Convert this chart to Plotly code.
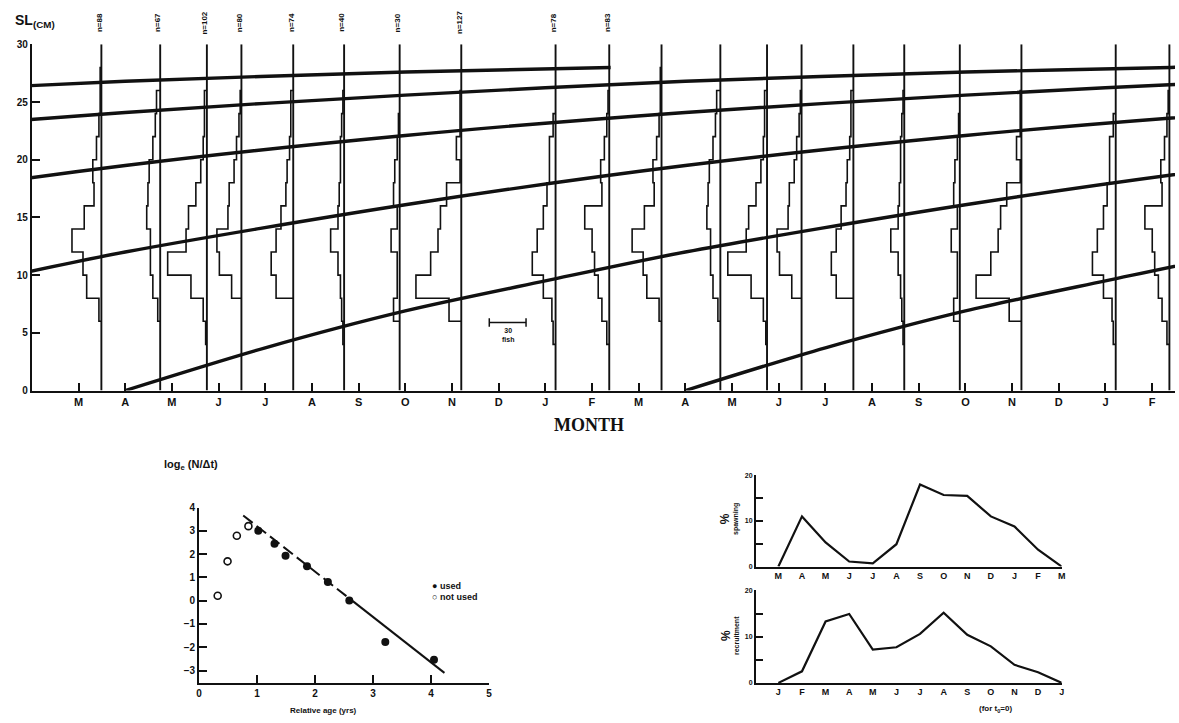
import plotly.graph_objects as go

W, H = 1179, 723

# ---------------- length-frequency samples (one year, shown twice) ----------------
sample_month = [1.49, 2.75, 3.75, 4.49, 5.60, 6.69, 7.88, 9.20, 11.22, 12.37]
sample_n = [88, 67, 102, 80, 74, 40, 30, 127, 78, 83]
bin_lower = [4, 6, 8, 10, 12, 14, 16, 18, 20, 22, 24, 26]
bin_width = 2
freq_1 = [0, 2, 12, 15, 24, 14, 6, 7, 4, 2, 1, 1]
freq_2 = [0, 2, 6, 8, 8, 11, 10, 9, 6, 4, 3, 0]
freq_3 = [1, 3, 13, 32, 17, 15, 9, 5, 3, 2, 2, 0]
freq_4 = [0, 0, 8, 18, 20, 11, 10, 6, 4, 2, 1, 0]
freq_5 = [0, 0, 14, 18, 14, 10, 6, 5, 3, 2, 2, 0]
freq_6 = [1, 2, 3, 5, 11, 5, 4, 3, 3, 2, 1, 0]
freq_7 = [0, 5, 2, 2, 7, 2, 5, 4, 2, 1, 0, 0]
freq_8 = [0, 10, 37, 25, 19, 17, 12, 1, 4, 1, 1, 0]
freq_9 = [2, 3, 10, 19, 15, 10, 7, 5, 5, 2, 0, 0]
freq_10 = [2, 6, 9, 12, 14, 20, 6, 7, 4, 2, 1, 0]
freqs = [freq_1, freq_2, freq_3, freq_4, freq_5, freq_6, freq_7, freq_8, freq_9, freq_10]
repeat_offsets = [0, 12]
fish_scale = 30              # fish represented by the scale bar
fish_per_month = 38.1        # horizontal histogram scale (fish per month of axis)
scale_bar_start = 9.8
scale_bar_level = 5.9

month_letters = ["M", "A", "M", "J", "J", "A", "S", "O", "N", "D", "J", "F"] * 2

# growth curve: standard length at age (months) and cohort birth months
growth_age = [0, 3, 6, 9, 12, 18, 24, 30, 36, 42, 48, 54, 58.4, 60, 66, 72]
growth_len = [0, 3.7, 6.9, 9.5, 12.0, 16.1, 19.5, 22.1, 24.1, 25.6, 26.8, 27.6, 28.0, 28.2, 28.8, 29.2]
cohort_birth = [-46, -34, -22, -10, 2, 14]
cohort_end = [12.4, None, None, None, None, None]

# ---------------- catch curve ----------------
age_not_used = [0.32, 0.49, 0.65, 0.85]
ln_not_used = [0.21, 1.69, 2.79, 3.20]
age_used = [1.02, 1.30, 1.49, 1.86, 2.22, 2.59, 3.21, 4.05]
ln_used = [3.00, 2.44, 1.93, 1.48, 0.80, 0.01, -1.77, -2.54]
fit_age = [0.76, 2.65, 4.23]
fit_ln = [3.66, -0.02, -3.10]

# ---------------- spawning / recruitment ----------------
spawn_months = ["M", "A", "M", "J", "J", "A", "S", "O", "N", "D", "J", "F", "M"]
spawn_pct = [0, 11.0, 5.3, 1.1, 0.7, 4.9, 18.0, 15.7, 15.5, 11.0, 8.8, 3.7, 0]
recr_months = ["J", "F", "M", "A", "M", "J", "J", "A", "S", "O", "N", "D", "J"]
recr_pct = [0, 2.5, 13.3, 14.9, 7.2, 7.7, 10.6, 15.2, 10.4, 7.9, 3.9, 2.3, 0]

BLACK = "#111111"
SANS = "Liberation Sans"


def px_x(p):
    return p / W


def px_y(p):
    return 1 - p / H


fig = go.Figure()

# growth curves
for birth, end in zip(cohort_birth, cohort_end):
    xs, ys = [], []
    for a, L in zip(growth_age, growth_len):
        x = birth + a
        if end is not None and x > end + 1e-6:
            break
        xs.append(x)
        ys.append(L)
    fig.add_trace(go.Scatter(x=xs, y=ys, mode="lines", xaxis="x", yaxis="y",
                             line=dict(color=BLACK, width=3.4, shape="spline", smoothing=0.8),
                             hoverinfo="skip"))

# sample date lines and histogram outlines
fw = 1.0 / fish_per_month
line_x, line_y, hist_x, hist_y = [], [], [], []
for off in repeat_offsets:
    for d0, counts in zip(sample_month, freqs):
        d = d0 + off
        line_x += [d, d, None]
        line_y += [0, 30, None]
        nz = [i for i, c in enumerate(counts) if c > 0]
        first, last = nz[0], nz[-1]
        xs, ys = [d], [bin_lower[first]]
        for i in range(first, last + 1):
            xl = d - counts[i] * fw
            xs += [xl, xl]
            ys += [bin_lower[i], bin_lower[i] + bin_width]
        xs.append(d)
        ys.append(bin_lower[last] + bin_width)
        hist_x += xs + [None]
        hist_y += ys + [None]

fig.add_trace(go.Scatter(x=line_x, y=line_y, mode="lines", xaxis="x", yaxis="y",
                         line=dict(color=BLACK, width=1.9), hoverinfo="skip"))
fig.add_trace(go.Scatter(x=hist_x, y=hist_y, mode="lines", xaxis="x", yaxis="y",
                         line=dict(color=BLACK, width=1.6), hoverinfo="skip"))

# scale bar
fig.add_trace(go.Scatter(x=[scale_bar_start, scale_bar_start + fish_scale * fw],
                         y=[scale_bar_level, scale_bar_level], mode="lines+markers",
                         xaxis="x", yaxis="y",
                         marker=dict(symbol="line-ns", size=6, line=dict(width=1.5, color=BLACK), color=BLACK),
                         line=dict(color=BLACK, width=1.5), hoverinfo="skip"))

# catch curve
fig.add_trace(go.Scatter(x=fit_age[:2], y=fit_ln[:2], mode="lines", xaxis="x2", yaxis="y2",
                         line=dict(color=BLACK, width=2, dash="12px,5px"), hoverinfo="skip"))
fig.add_trace(go.Scatter(x=fit_age[1:], y=fit_ln[1:], mode="lines", xaxis="x2", yaxis="y2",
                         line=dict(color=BLACK, width=2), hoverinfo="skip"))
fig.add_trace(go.Scatter(x=age_not_used, y=ln_not_used, mode="markers", xaxis="x2", yaxis="y2",
                         marker=dict(symbol="circle-open", size=7, color=BLACK, line=dict(width=1.6)),
                         hoverinfo="skip"))
fig.add_trace(go.Scatter(x=age_used, y=ln_used, mode="markers", xaxis="x2", yaxis="y2",
                         marker=dict(symbol="circle", size=8, color=BLACK), hoverinfo="skip"))

# spawning and recruitment
fig.add_trace(go.Scatter(x=list(range(len(spawn_pct))), y=spawn_pct, mode="lines",
                         xaxis="x3", yaxis="y3", line=dict(color=BLACK, width=2.2), hoverinfo="skip"))
fig.add_trace(go.Scatter(x=list(range(len(recr_pct))), y=recr_pct, mode="lines",
                         xaxis="x4", yaxis="y4", line=dict(color=BLACK, width=2.2), hoverinfo="skip"))

axis_common = dict(showgrid=False, zeroline=False, showline=True, linecolor=BLACK,
                   linewidth=2, ticks="inside", tickcolor=BLACK, tickwidth=2,
                   mirror=False)
small_minor = dict(tickvals=[5, 15], ticks="inside", ticklen=7, tickwidth=1.6,
                   tickcolor=BLACK, showgrid=False)

fig.update_layout(
    width=W, height=H, margin=dict(l=0, r=0, t=0, b=0),
    paper_bgcolor="white", plot_bgcolor="white", showlegend=False,
    xaxis=dict(axis_common, domain=[px_x(29), 1.0], range=[0, 24.49], anchor="y",
               tickvals=list(range(1, 25)), ticktext=month_letters, ticklen=8,
               tickfont=dict(family=SANS, size=11, color=BLACK, weight="bold")),
    yaxis=dict(axis_common, domain=[px_y(391), px_y(39)], range=[0, 30], anchor="x",
               tickvals=[0, 5, 10, 15, 20, 25, 30], ticklen=8,
               tickfont=dict(family=SANS, size=10, color=BLACK, weight="bold")),
    xaxis2=dict(axis_common, domain=[px_x(197.3), px_x(489)], range=[0, 5], anchor="y2",
                tickvals=[0, 1, 2, 3, 4, 5], ticklen=8,
                tickfont=dict(family=SANS, size=10, color=BLACK, weight="bold")),
    yaxis2=dict(axis_common, domain=[px_y(688.3), px_y(510)], range=[-3.53, 4], anchor="x2",
                tickvals=[-3, -2, -1, 0, 1, 2, 3, 4], ticklen=8,
                tickfont=dict(family=SANS, size=10, color=BLACK, weight="bold")),
    xaxis3=dict(axis_common, domain=[px_x(757.3), px_x(1065)], range=[-0.956, 12], anchor="y3",
                tickvals=list(range(13)), ticktext=spawn_months, ticks="", linewidth=1.6,
                tickfont=dict(family=SANS, size=9, color=BLACK, weight="bold")),
    yaxis3=dict(axis_common, domain=[px_y(570), px_y(477.3)], range=[0, 20], anchor="x3",
                tickvals=[0, 10, 20], ticklen=7, minor=small_minor,
                linewidth=1.6, tickwidth=1.6,
                tickfont=dict(family=SANS, size=7, color=BLACK, weight="bold")),
    xaxis4=dict(axis_common, domain=[px_x(757.3), px_x(1065)], range=[-0.956, 12], anchor="y4",
                tickvals=list(range(13)), ticktext=recr_months, ticks="", linewidth=1.6,
                tickfont=dict(family=SANS, size=9, color=BLACK, weight="bold")),
    yaxis4=dict(axis_common, domain=[px_y(688.3), px_y(594.3)], range=[0, 20], anchor="x4",
                tickvals=[0, 10, 20], ticklen=7, minor=small_minor,
                linewidth=1.6, tickwidth=1.6,
                tickfont=dict(family=SANS, size=7, color=BLACK, weight="bold")),
)

ann = []
ann.append(dict(x=px_x(10), y=px_y(15), xref="paper", yref="paper", xanchor="left", yanchor="middle",
                text="<b>SL<sub>(CM)</sub></b>", showarrow=False,
                font=dict(family=SANS, size=14, color=BLACK)))
ann.append(dict(x=px_x(590), y=px_y(426), xref="paper", yref="paper", xanchor="center", yanchor="middle",
                text="<b>MONTH</b>", showarrow=False,
                font=dict(family="Liberation Serif", size=18, color=BLACK)))
for d, n in zip(sample_month, sample_n):
    ann.append(dict(x=d, y=px_y(17), xref="x", yref="paper", xanchor="center", yanchor="middle",
                    text=f"<b>n={n}</b>", textangle=-90, showarrow=False, xshift=-2,
                    font=dict(family=SANS, size=8, color=BLACK)))
ann.append(dict(x=scale_bar_start + fish_scale * fw / 2, y=scale_bar_level, xref="x", yref="y",
                xanchor="center", yanchor="top", yshift=-3,
                text=f"<b>{fish_scale}<br>fish</b>", showarrow=False,
                font=dict(family=SANS, size=7, color=BLACK)))
# catch curve labels
ann.append(dict(x=px_x(160), y=px_y(467), xref="paper", yref="paper", xanchor="left", yanchor="middle",
                text="<b>log<sub>e</sub> (N/Δt)</b>", showarrow=False,
                font=dict(family=SANS, size=11, color=BLACK)))
ann.append(dict(x=px_x(322), y=px_y(716), xref="paper", yref="paper", xanchor="center", yanchor="middle",
                text="<b>Relative age (yrs)</b>", showarrow=False,
                font=dict(family=SANS, size=8, color=BLACK)))
ann.append(dict(x=px_x(430), y=px_y(590), xref="paper", yref="paper", xanchor="left", yanchor="middle",
                text="<b>● used</b>", showarrow=False, font=dict(family=SANS, size=9, color=BLACK)))
ann.append(dict(x=px_x(430), y=px_y(601), xref="paper", yref="paper", xanchor="left", yanchor="middle",
                text="<b>○ not used</b>", showarrow=False, font=dict(family=SANS, size=9, color=BLACK)))
# spawning / recruitment labels
ann.append(dict(x=px_x(731), y=px_y(522), xref="paper", yref="paper", xanchor="center", yanchor="middle",
                text="<b><span style='font-size:12px'>%</span><br>spawning</b>", textangle=-90,
                showarrow=False, font=dict(family=SANS, size=7, color=BLACK)))
ann.append(dict(x=px_x(731), y=px_y(640), xref="paper", yref="paper", xanchor="center", yanchor="middle",
                text="<b><span style='font-size:12px'>%</span><br>recruitment</b>", textangle=-90,
                showarrow=False, font=dict(family=SANS, size=7, color=BLACK)))
ann.append(dict(x=px_x(998), y=px_y(715), xref="paper", yref="paper", xanchor="center", yanchor="middle",
                text="<b>(for t<sub>0</sub>=0)</b>", showarrow=False,
                font=dict(family=SANS, size=8, color=BLACK)))
fig.update_layout(annotations=ann)

fig.write_html("out.html")
